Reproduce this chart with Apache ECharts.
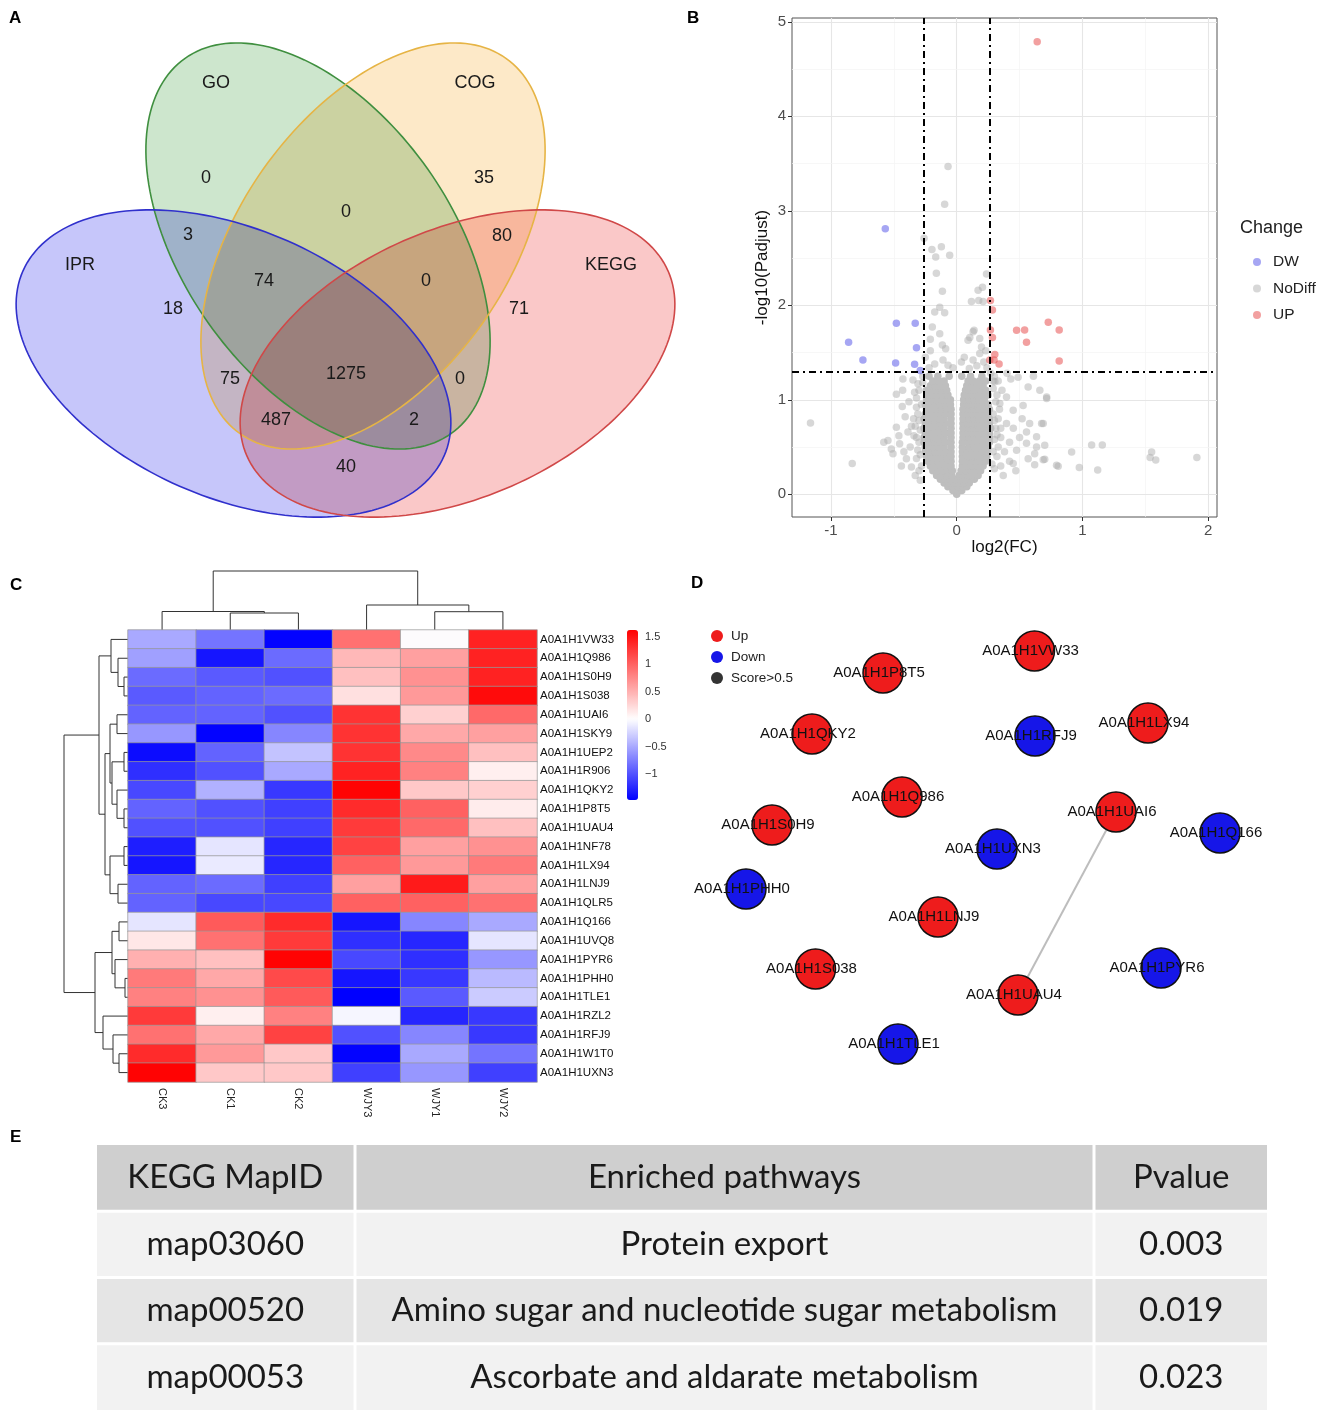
<!DOCTYPE html>
<html><head><meta charset="utf-8">
<script src="https://cdn.jsdelivr.net/npm/echarts@6/dist/echarts.min.js"></script>
<style>html,body{margin:0;padding:0;background:#fff}#c{width:1325px;height:1415px}</style>
</head><body><div id="c"></div>
<script>
// ================= DATA =================
// A: Venn
const vennSets = ['GO', 'COG', 'IPR', 'KEGG'];
const vennCounts = [0, 35, 0, 3, 80, 74, 0, 18, 71, 75, 1275, 0, 487, 2, 40];

// B: volcano (log2FC, -log10 Padjust)
const fcCut = 0.263, pCut = 1.301;
const volcanoXTicks = [-1, 0, 1, 2];
const volcanoYTicks = [0, 1, 2, 3, 4, 5];
const dwPoints = [[-0.568,2.81],[-0.86,1.61],[-0.746,1.42],[-0.48,1.81],[-0.33,1.81],[-0.32,1.55],[-0.486,1.39],[-0.335,1.375],[-0.29,1.31]];
const upPoints = [[0.64,4.79],[0.268,2.05],[0.284,1.95],[0.268,1.74],[0.284,1.66],[0.303,1.48],[0.263,1.42],[0.297,1.42],[0.337,1.38],[0.476,1.735],[0.54,1.74],[0.555,1.61],[0.728,1.82],[0.815,1.74],[0.815,1.41]];
const nodiffPoints = [
 [-0.069,3.47],[-0.096,3.07],[-0.26,2.71],[-0.197,2.59],[-0.122,2.62],[-0.167,2.51],[-0.056,2.53],[-0.162,2.34],[0.237,2.33],[-0.114,2.15],[0.17,2.16],[0.205,2.19],[0.117,2.04],[0.175,2.05],[0.21,2.04],[-0.135,1.98],[-0.175,1.93],[-0.096,1.92],[-0.194,1.77],[0.138,1.735],[0.13,1.72],[0.104,1.66],[0.09,1.63],[0.183,1.65],[0.197,1.56],[-0.21,1.64],[-0.135,1.7],[-0.114,1.58],[-0.088,1.54],[-0.21,1.52],[0.231,1.52],[0.183,1.49],[0.13,1.42],[0.06,1.45],[0.037,1.4],[-0.109,1.42],[-0.069,1.365],[0.215,1.4],[-0.175,1.38],[0.16,1.36],[-0.03,1.34],[0.1,1.33],[-0.22,1.34],[-0.25,1.45],[0.24,1.34],
 [-1.163,0.755],[-0.831,0.325],[-0.48,1.06],[-0.433,0.93],[-0.547,0.57],[-0.507,0.43],[-0.454,0.536],[-0.4,0.377],[-0.36,0.29],[-0.388,0.66],[-0.343,0.8],[-0.32,0.92],[-0.335,1.08],[-0.348,1.21],[-0.428,1.22],[-0.308,1.17],[-0.48,0.71],[-0.42,0.45],[-0.46,0.62],[-0.37,0.5],[-0.32,0.6],[-0.38,0.98],[-0.43,1.1],[-0.52,0.48],[-0.58,0.55],[-0.41,0.82],[-0.36,0.72],[-0.44,0.3],[-0.33,0.2],[-0.29,0.15],
 [-0.29,0.42],[-0.3,0.55],[-0.29,0.68],[-0.31,0.85],[-0.28,0.95],[-0.3,1.1],[-0.27,1.25],[-0.33,0.72],[-0.28,0.3],[-0.32,0.38],[0.29,0.45],[0.3,0.58],[0.31,0.7],[0.29,0.85],[0.31,0.98],[0.29,1.12],[0.33,0.5],[0.34,0.9],[0.28,0.32],[0.3,1.25],[0.29,1.2],[0.33,1.2],
 [-0.3,0.25],[-0.31,0.47],[-0.3,0.78],[-0.32,1.02],[0.3,0.27],[0.32,0.63],[0.3,0.78],[0.32,1.05],[-0.34,0.62],[0.35,0.7],[-0.27,1.18],[0.27,1.28],
 [0.396,0.75],[0.449,0.89],[0.528,0.94],[0.568,1.135],[0.661,1.1],[0.715,1.03],[0.675,0.75],[0.555,0.66],[0.635,0.61],[0.555,0.54],[0.635,0.5],[0.62,0.43],[0.568,0.377],[0.688,0.367],[0.62,0.314],[0.794,0.307],[0.449,0.325],[0.476,0.466],[0.488,1.24],[0.396,1.03],[0.303,1.19],[0.343,0.96],[1.073,0.523],[1.158,0.523],[0.914,0.447],[1.55,0.447],[1.538,0.39],[1.583,0.364],[1.91,0.39],[0.807,0.296],[0.975,0.285],[1.121,0.258],[0.7,0.37],[0.7,0.52],[0.688,0.75],[0.715,1.015],[0.35,0.6],[0.38,0.45],[0.42,0.55],[0.33,0.8],[0.36,1.1],[0.4,1.28],[0.32,0.4],[0.5,0.6],[0.45,0.7],[0.52,0.8],[0.35,0.3],[0.42,0.35],[0.47,0.25],[0.58,0.75],[0.61,1.25],[0.43,1.22],[0.37,0.2]
];
// dense core of the volcano, read row by row: [ -log10(Padj), [log2FC values] ]
const nodiffCoreRows = [
 [0.00,[0]],
 [0.04,[-0.03,0.01,0.04]],
 [0.08,[-0.07,-0.03,0.01,0.05,0.08]],
 [0.12,[-0.1,-0.06,-0.02,0.02,0.06,0.1]],
 [0.16,[-0.13,-0.09,-0.05,-0.01,0.03,0.07,0.11,0.14]],
 [0.20,[-0.16,-0.12,-0.08,-0.04,0.02,0.05,0.09,0.13,0.17]],
 [0.25,[-0.19,-0.15,-0.11,-0.07,-0.035,0.035,0.07,0.11,0.15,0.19]],
 [0.30,[-0.21,-0.17,-0.13,-0.09,-0.045,0.045,0.09,0.13,0.17,0.21]],
 [0.35,[-0.23,-0.19,-0.15,-0.11,-0.07,-0.045,0.045,0.07,0.11,0.15,0.19,0.23]],
 [0.40,[-0.24,-0.2,-0.16,-0.12,-0.08,-0.045,0.045,0.09,0.13,0.17,0.21,0.24]],
 [0.45,[-0.25,-0.21,-0.17,-0.13,-0.09,-0.045,0.045,0.08,0.12,0.16,0.2,0.24]],
 [0.50,[-0.25,-0.22,-0.18,-0.14,-0.1,-0.045,0.045,0.1,0.14,0.18,0.22,0.25]],
 [0.55,[-0.26,-0.21,-0.17,-0.13,-0.09,-0.045,0.045,0.09,0.13,0.17,0.21,0.26]],
 [0.60,[-0.26,-0.22,-0.18,-0.14,-0.1,-0.045,0.05,0.1,0.14,0.18,0.22,0.26]],
 [0.65,[-0.25,-0.21,-0.17,-0.13,-0.09,-0.045,0.05,0.09,0.13,0.17,0.21,0.26]],
 [0.70,[-0.26,-0.22,-0.18,-0.14,-0.1,-0.045,0.05,0.1,0.14,0.18,0.22,0.27]],
 [0.75,[-0.25,-0.21,-0.17,-0.13,-0.09,-0.045,0.05,0.09,0.13,0.17,0.21,0.26]],
 [0.80,[-0.26,-0.22,-0.18,-0.14,-0.1,-0.045,0.05,0.1,0.14,0.18,0.22,0.26]],
 [0.85,[-0.25,-0.21,-0.17,-0.13,-0.09,-0.045,0.05,0.09,0.13,0.17,0.21,0.25]],
 [0.90,[-0.24,-0.2,-0.16,-0.12,-0.08,-0.045,0.05,0.1,0.14,0.18,0.22,0.26]],
 [0.95,[-0.25,-0.21,-0.17,-0.13,-0.09,-0.05,0.055,0.09,0.13,0.17,0.21,0.25]],
 [1.00,[-0.24,-0.2,-0.16,-0.12,-0.08,-0.05,0.055,0.1,0.14,0.18,0.22]],
 [1.05,[-0.23,-0.19,-0.15,-0.11,-0.07,0.06,0.09,0.13,0.17,0.21,0.25]],
 [1.10,[-0.24,-0.2,-0.16,-0.12,-0.08,0.07,0.1,0.14,0.19,0.23]],
 [1.15,[-0.21,-0.17,-0.13,-0.09,0.08,0.12,0.16,0.21]],
 [1.20,[-0.19,-0.14,-0.1,0.09,0.13,0.18,0.23]],
 [1.25,[-0.22,-0.15,-0.06,0.04,0.11,0.2]]
];

// C: heatmap (row z-scores)
const heatSamples = ['CK3', 'CK1', 'CK2', 'WJY3', 'WJY1', 'WJY2'];
const heatGenes = ['A0A1H1VW33','A0A1H1Q986','A0A1H1S0H9','A0A1H1S038','A0A1H1UAI6','A0A1H1SKY9','A0A1H1UEP2','A0A1H1R906','A0A1H1QKY2','A0A1H1P8T5','A0A1H1UAU4','A0A1H1NF78','A0A1H1LX94','A0A1H1LNJ9','A0A1H1QLR5','A0A1H1Q166','A0A1H1UVQ8','A0A1H1PYR6','A0A1H1PHH0','A0A1H1TLE1','A0A1H1RZL2','A0A1H1RFJ9','A0A1H1W1T0','A0A1H1UXN3'];
const heatValues = [
 [-0.5,-0.8,-1.45,0.9,0.0,1.4],
 [-0.55,-1.35,-0.85,0.45,0.6,1.4],
 [-0.85,-0.95,-1.0,0.4,0.7,1.4],
 [-0.95,-0.9,-0.85,0.2,0.65,1.55],
 [-0.9,-0.9,-1.0,1.3,0.3,0.95],
 [-0.6,-1.45,-0.7,1.3,0.55,0.6],
 [-1.4,-0.9,-0.35,1.3,0.75,0.4],
 [-1.2,-1.0,-0.5,1.4,0.8,0.1],
 [-1.05,-0.45,-1.15,1.6,0.35,0.3],
 [-0.9,-1.0,-1.1,1.35,1.0,0.12],
 [-1.0,-1.0,-1.1,1.25,0.95,0.4],
 [-1.3,-0.15,-1.25,1.2,0.6,0.7],
 [-1.35,-0.12,-1.25,1.0,0.65,0.85],
 [-0.9,-0.85,-1.1,0.6,1.45,0.6],
 [-0.9,-1.05,-1.05,1.0,1.0,0.9],
 [-0.15,1.05,1.35,-1.35,-0.7,-0.5],
 [0.15,0.9,1.25,-1.2,-1.25,-0.15],
 [0.5,0.4,1.6,-1.05,-1.2,-0.6],
 [0.85,0.55,1.15,-1.35,-1.15,-0.4],
 [0.8,0.7,1.05,-1.47,-0.95,-0.3],
 [1.25,0.1,0.8,-0.05,-1.25,-1.15],
 [0.9,0.55,1.2,-1.0,-0.7,-1.15],
 [1.35,0.65,0.35,-1.45,-0.5,-0.8],
 [1.6,0.35,0.35,-1.1,-0.6,-1.1]
];
const heatMin = -1.47, heatMax = 1.62;
const colorbarTicks = [-1, -0.5, 0, 0.5, 1, 1.5];
// hierarchical clustering (leaf indices, merge heights)
const colTree = {h:59, c:[{h:18.5, c:[0, {h:17, c:[1,2]}]}, {h:25, c:[3, {h:18.3, c:[4,5]}]}]};
const rowTree = {h:64, c:[
  {h:29, c:[
    {h:17, c:[0, {h:10, c:[1, {h:4, c:[2,3]}]}]},
    {h:23, c:[
      {h:18, c:[{h:11, c:[4,5]}, {h:16, c:[{h:4, c:[6,7]}, {h:11, c:[8, {h:4, c:[9,10]}]}]}]},
      {h:18, c:[{h:4, c:[11,12]}, {h:10, c:[13,14]}]}
    ]}
  ]},
  {h:33, c:[
    {h:16, c:[{h:9, c:[15,16]}, {h:13, c:[17, {h:3, c:[18,19]}]}]},
    {h:25, c:[20, {h:15, c:[21, {h:9, c:[22,23]}]}]}
  ]}
]};

// D: interaction network
const netNodes = ['A0A1H1VW33','A0A1H1P8T5','A0A1H1QKY2','A0A1H1RFJ9','A0A1H1LX94','A0A1H1Q986','A0A1H1S0H9','A0A1H1UAI6','A0A1H1Q166','A0A1H1UXN3','A0A1H1PHH0','A0A1H1LNJ9','A0A1H1S038','A0A1H1UAU4','A0A1H1PYR6','A0A1H1TLE1'];
const netRegulation = ['Up','Up','Up','Down','Up','Up','Up','Up','Down','Down','Down','Up','Up','Up','Down','Down'];
const netLinks = [['A0A1H1UAI6','A0A1H1UAU4']];

// E: KEGG enrichment table
const tableHeader = ['KEGG MapID', 'Enriched pathways', 'Pvalue'];
const mapIds = ['map03060', 'map00520', 'map00053'];
const pathways = ['Protein export', 'Amino sugar and nucleotide sugar metabolism', 'Ascorbate and aldarate metabolism'];
const pvalues = ['0.003', '0.019', '0.023'];

// ================= LAYOUT / STYLE =================
const FONT = '"Liberation Sans", Arial, Helvetica, sans-serif';
const VENN_SHAPES = [ // centre, semi-axes, tilt (venn grid units)
  {cx:318, cy:246, a:230, b:134, deg:54.7, fill:'rgb(205,230,205)', stroke:'#3f8f3f'},
  {cx:373, cy:246, a:230, b:134, deg:-54.7, fill:'rgb(253,233,200)', stroke:'#e6b445'},
  {cx:233.5, cy:363.5, a:230, b:134, deg:23.7, fill:'rgb(198,198,250)', stroke:'#3030cc'},
  {cx:457.5, cy:363.5, a:230, b:134, deg:-23.7, fill:'rgb(250,200,200)', stroke:'#d04848'}
];
const VENN_SET_POS = [[216,83],[475,83],[80,265],[611,265]];
const VENN_COUNT_POS = [[206,178],[484,178],[346,212],[188,235],[502,236],[264,281],[426,281],[173,309],[519,309],[230,379],[346,374],[460,379],[276,420],[414,420],[346,467]];
const NET_POS = [[354.5,61],[203,83],[132,144],[355,146],[468,133],[222,207],[92,235],[436,222],[540,243],[317,259],[66,299],[258,327],[135.5,379],[338,405],[481,378],[218,454]];
const TABLE_COL_EDGES = [0, 258, 997, 1170];
const TABLE_ROW_FILL = ['#cfcfcf', '#f2f2f2', '#e5e5e5', '#f2f2f2'];

function ellipsePts(e) {
  const th = e.deg * Math.PI / 180, pts = [];
  for (let i = 0; i < 180; i++) {
    const t = i / 180 * 2 * Math.PI;
    pts.push([e.cx + e.a * Math.cos(t) * Math.cos(th) - e.b * Math.sin(t) * Math.sin(th),
              e.cy + e.a * Math.cos(t) * Math.sin(th) + e.b * Math.sin(t) * Math.cos(th)]);
  }
  return pts;
}
function dendro(tree, swap) {
  const segs = [];
  (function lay(n) {
    if (typeof n === 'number') return {p: n + 0.5, h: 0};
    const a = lay(n.c[0]), b = lay(n.c[1]);
    let s = [[a.p, a.h], [a.p, n.h], [b.p, n.h], [b.p, b.h]];
    if (swap) s = s.map(q => [q[1], q[0]]);
    segs.push({coords: s});
    return {p: (a.p + b.p) / 2, h: n.h};
  })(tree);
  return segs;
}
function mix(c0, c1, t) {
  return 'rgb(' + c0.map((v, i) => Math.round(v + (c1[i] - v) * t)).join(',') + ')';
}
const heatStops = [];
for (let i = 0; i <= 60; i++) {
  const v = heatMin + (heatMax - heatMin) * i / 60;
  heatStops.push(v < 0 ? mix([255,255,255], [0,0,255], v / heatMin) : mix([255,255,255], [255,0,0], v / heatMax));
}

// the overplotted core is drawn opaque (it is saturated in the original)
const coreStyle = {color:'#bebebe', opacity:1};
const nodiffAll = nodiffPoints.map(p => ({value:p}))
  .concat(nodiffCoreRows.flatMap(r => r[1].map(x => ({value:[x, r[0]], itemStyle:coreStyle}))));
const minorX = [-0.5, 0.5, 1.5], minorY = [0.5, 1.5, 2.5, 3.5, 4.5];
const tableRows = [tableHeader].concat(mapIds.map((m, i) => [m, pathways[i], pvalues[i]]));

// ================= SERIES =================
const series = [];
// Venn
series.push({type:'custom', xAxisIndex:0, yAxisIndex:0, silent:true, z:1, blendMode:'multiply',
  data: vennSets.map((s, i) => [i, 0]),
  renderItem: (p, api) => {
    const e = VENN_SHAPES[p.dataIndex];
    return {type:'polygon', shape:{points: ellipsePts(e).map(q => api.coord(q))}, style:{fill:e.fill}};
  }});
series.push({type:'custom', xAxisIndex:0, yAxisIndex:0, silent:true, z:2,
  data: vennSets.map((s, i) => [i, 0]),
  renderItem: (p, api) => {
    const e = VENN_SHAPES[p.dataIndex];
    return {type:'polygon', shape:{points: ellipsePts(e).map(q => api.coord(q))}, style:{fill:'none', stroke:e.stroke, lineWidth:1.6}};
  }});
series.push({type:'custom', xAxisIndex:0, yAxisIndex:0, silent:true, z:3,
  data: vennSets.map((s, i) => [i, 0]),
  renderItem: (p, api) => {
    const q = api.coord(VENN_SET_POS[p.dataIndex]);
    return {type:'text', x:q[0], y:q[1], style:{text:vennSets[p.dataIndex], fontSize:18, fontFamily:FONT, fill:'#1a1a1a', align:'center', verticalAlign:'middle'}};
  }});
series.push({type:'custom', xAxisIndex:0, yAxisIndex:0, silent:true, z:3,
  data: vennCounts.map((s, i) => [i, 0]),
  renderItem: (p, api) => {
    const q = api.coord(VENN_COUNT_POS[p.dataIndex]);
    return {type:'text', x:q[0], y:q[1], style:{text:String(vennCounts[p.dataIndex]), fontSize:18, fontFamily:FONT, fill:'#1a1a1a', align:'center', verticalAlign:'middle'}};
  }});

// Volcano
const gridLines = [];
volcanoXTicks.forEach(v => gridLines.push({xAxis:v, lineStyle:{color:'#e6e6e6', width:1.1, type:'solid'}}));
minorX.forEach(v => gridLines.push({xAxis:v, lineStyle:{color:'#f3f3f3', width:0.7, type:'solid'}}));
volcanoYTicks.forEach(v => gridLines.push({yAxis:v, lineStyle:{color:'#e6e6e6', width:1.1, type:'solid'}}));
minorY.forEach(v => gridLines.push({yAxis:v, lineStyle:{color:'#f3f3f3', width:0.7, type:'solid'}}));
series.push({type:'scatter', name:'_grid', xAxisIndex:1, yAxisIndex:1, data:[], silent:true,
  markLine:{silent:true, symbol:'none', z:1, label:{show:false}, data:gridLines}});
series.push({type:'scatter', name:'NoDiff', xAxisIndex:1, yAxisIndex:1, data:nodiffAll, symbolSize:7.5, z:2,
  itemStyle:{color:'rgba(172,172,172,0.6)'}});
series.push({type:'scatter', name:'DW', xAxisIndex:1, yAxisIndex:1, data:dwPoints, symbolSize:7.5, z:3,
  itemStyle:{color:'rgba(100,100,235,0.72)'}});
series.push({type:'scatter', name:'UP', xAxisIndex:1, yAxisIndex:1, data:upPoints, symbolSize:7.5, z:3,
  itemStyle:{color:'rgba(232,90,90,0.72)'}});
series.push({type:'scatter', name:'_thr', xAxisIndex:1, yAxisIndex:1, data:[], silent:true,
  markLine:{silent:true, symbol:'none', z:5, label:{show:false},
    lineStyle:{color:'#000', width:2, type:[7,4,2,4]},
    data:[{xAxis:-fcCut}, {xAxis:fcCut}, {yAxis:pCut}]}});

// Dendrograms
series.push({type:'lines', coordinateSystem:'cartesian2d', xAxisIndex:2, yAxisIndex:2, polyline:true, silent:true,
  data: dendro(colTree, false), lineStyle:{color:'#333', width:1, opacity:1}});
series.push({type:'lines', coordinateSystem:'cartesian2d', xAxisIndex:3, yAxisIndex:3, polyline:true, silent:true,
  data: dendro(rowTree, true), lineStyle:{color:'#333', width:1, opacity:1}});

// Heatmap
const heatData = [];
heatValues.forEach((row, r) => row.forEach((v, c) => heatData.push([c, r, v])));
const heatIndex = series.length;
series.push({type:'heatmap', xAxisIndex:4, yAxisIndex:4, data:heatData, silent:true,
  itemStyle:{borderColor:'rgba(150,150,150,0.9)', borderWidth:0.8}});

// Network
series.push({type:'graph', coordinateSystem:'cartesian2d', xAxisIndex:6, yAxisIndex:6, silent:true,
  categories:[{name:'Up', itemStyle:{color:'#ee1c1c'}}, {name:'Down', itemStyle:{color:'#1616e8'}}],
  data: netNodes.map((n, i) => ({name:n, value:NET_POS[i], category: netRegulation[i] === 'Up' ? 0 : 1})),
  links: netLinks.map(l => ({source:l[0], target:l[1]})),
  symbolSize:40, itemStyle:{borderColor:'#111', borderWidth:1.5},
  lineStyle:{color:'#bdbdbd', width:2, opacity:1},
  label:{show:true, position:'inside', offset:[-4,0], color:'#111', fontSize:15, fontFamily:FONT}});
series.push({type:'scatter', name:'Score>0.5', xAxisIndex:6, yAxisIndex:6, data:[], itemStyle:{color:'#000'}});

// Table
const tableData = [];
tableRows.forEach((row, r) => row.forEach((t, c) => tableData.push([c, r])));
series.push({type:'custom', xAxisIndex:7, yAxisIndex:7, silent:true, data:tableData,
  renderItem: (p, api) => {
    const c = api.value(0), r = api.value(1);
    const L = api.coord([TABLE_COL_EDGES[c], r]), R = api.coord([TABLE_COL_EDGES[c + 1], r]);
    const h = api.size([0, 1])[1];
    const x0 = L[0] + (c > 0 ? 1.5 : 0), x1 = R[0] - (c < 2 ? 1.5 : 0);
    const y0 = L[1] - h / 2 + (r > 0 ? 1.5 : 0), y1 = L[1] + h / 2 - (r < 3 ? 1.5 : 0);
    return {type:'group', children:[
      {type:'rect', shape:{x:x0, y:y0, width:x1 - x0, height:y1 - y0}, style:{fill:TABLE_ROW_FILL[r]}},
      {type:'text', x:(x0 + x1) / 2, y:(y0 + y1) / 2, style:{text:tableRows[r][c], fontSize:33, fontFamily:'Lato, "Open Sans", sans-serif', fill:'#1a1a1a', align:'center', verticalAlign:'middle'}}
    ]};
  }});

// ================= OPTION =================
const option = {
  backgroundColor:'#ffffff',
  animation:false,
  textStyle:{fontFamily:FONT},
  title:[
    {text:'A', left:9, top:10, padding:0, textStyle:{fontSize:17, fontWeight:'bold', color:'#000'}},
    {text:'B', left:687, top:10, padding:0, textStyle:{fontSize:17, fontWeight:'bold', color:'#000'}},
    {text:'C', left:10, top:577, padding:0, textStyle:{fontSize:17, fontWeight:'bold', color:'#000'}},
    {text:'D', left:691, top:575, padding:0, textStyle:{fontSize:17, fontWeight:'bold', color:'#000'}},
    {text:'E', left:10, top:1129, padding:0, textStyle:{fontSize:17, fontWeight:'bold', color:'#000'}},
    {text:'Change', left:1240, top:219, padding:0, textStyle:{fontSize:18, fontWeight:'normal', color:'#222'}}
  ],
  legend:[
    {data:['DW','NoDiff','UP'], orient:'vertical', left:1248, top:249, itemWidth:8, itemHeight:8, itemGap:10.5, icon:'circle', selectedMode:false,
     textStyle:{fontSize:15.5, color:'#222', lineHeight:14, padding:[0,0,0,7]}},
    {data:['Up','Down','Score>0.5'], orient:'vertical', left:706, top:624, itemWidth:12, itemHeight:12, itemGap:7, icon:'circle', selectedMode:false,
     itemStyle:{borderWidth:0},
     textStyle:{fontSize:13.5, color:'#222', lineHeight:13, padding:[0,0,0,3]}}
  ],
  grid:[
    {left:0, top:0, width:700, height:540},
    {left:792, top:18, width:425, height:499, show:true, borderColor:'#555', borderWidth:1, backgroundColor:'transparent'},
    {left:128, top:566, width:409, height:64},
    {left:60, top:630, width:68, height:452},
    {left:128, top:630, width:409, height:452},
    {left:627, top:630, width:11, height:170},
    {left:680, top:590, width:640, height:500},
    {left:97, top:1145, width:1170, height:265}
  ],
  xAxis:[
    {gridIndex:0, type:'value', min:0, max:700, show:false},
    {gridIndex:1, type:'value', min:-1.31, max:2.07, name:'log2(FC)', nameLocation:'middle', nameGap:22,
     nameTextStyle:{fontSize:17, color:'#111'},
     axisLine:{show:false, onZero:false}, splitLine:{show:false},
     axisTick:{show:true, length:4, customValues:volcanoXTicks, lineStyle:{color:'#333'}},
     axisLabel:{customValues:volcanoXTicks, fontSize:15, color:'#4d4d4d', margin:6}},
    {gridIndex:2, type:'value', min:0, max:6, show:false},
    {gridIndex:3, type:'value', min:0, max:68, inverse:true, show:false},
    {gridIndex:4, type:'category', data:heatSamples, position:'bottom',
     axisLine:{show:false}, axisTick:{show:false}, splitLine:{show:false},
     axisLabel:{rotate:-90, fontSize:11, color:'#222', margin:6}},
    {gridIndex:5, type:'value', min:0, max:1, show:false},
    {gridIndex:6, type:'value', min:0, max:640, show:false},
    {gridIndex:7, type:'value', min:0, max:1170, show:false}
  ],
  yAxis:[
    {gridIndex:0, type:'value', min:0, max:540, inverse:true, show:false},
    {gridIndex:1, type:'value', min:-0.24, max:5.04, name:'-log10(Padjust)', nameLocation:'middle', nameGap:21, nameRotate:90,
     nameTextStyle:{fontSize:17, color:'#111'},
     axisLine:{show:false, onZero:false}, splitLine:{show:false},
     axisTick:{show:true, length:4, customValues:volcanoYTicks, lineStyle:{color:'#333'}},
     axisLabel:{customValues:volcanoYTicks, fontSize:15, color:'#4d4d4d', margin:6}},
    {gridIndex:2, type:'value', min:0, max:64, show:false},
    {gridIndex:3, type:'value', min:0, max:24, inverse:true, show:false},
    {gridIndex:4, type:'category', data:heatGenes, inverse:true, position:'right',
     axisLine:{show:false}, axisTick:{show:false}, splitLine:{show:false},
     axisLabel:{fontSize:11.5, color:'#111', margin:3}},
    {gridIndex:5, type:'value', min:heatMin, max:heatMax, position:'right',
     axisLine:{show:false}, axisTick:{show:false}, splitLine:{show:false},
     axisLabel:{customValues:colorbarTicks, fontSize:11, color:'#333', margin:7,
       formatter: v => String(v).replace('-', '\u2212')}},
    {gridIndex:6, type:'value', min:0, max:500, inverse:true, show:false},
    {gridIndex:7, type:'category', data:['0','1','2','3'], inverse:true, show:false}
  ],
  visualMap:[{type:'continuous', seriesIndex:heatIndex, dimension:2, min:heatMin, max:heatMax,
    inRange:{color:heatStops}, left:627, top:630, itemWidth:11, itemHeight:170, padding:0,
    calculable:false, orient:'vertical', text:null, showLabel:false}],
  series: series
};
const chart = echarts.init(document.getElementById('c'), null, {renderer:'canvas'});
chart.setOption(option);
</script></body></html>
